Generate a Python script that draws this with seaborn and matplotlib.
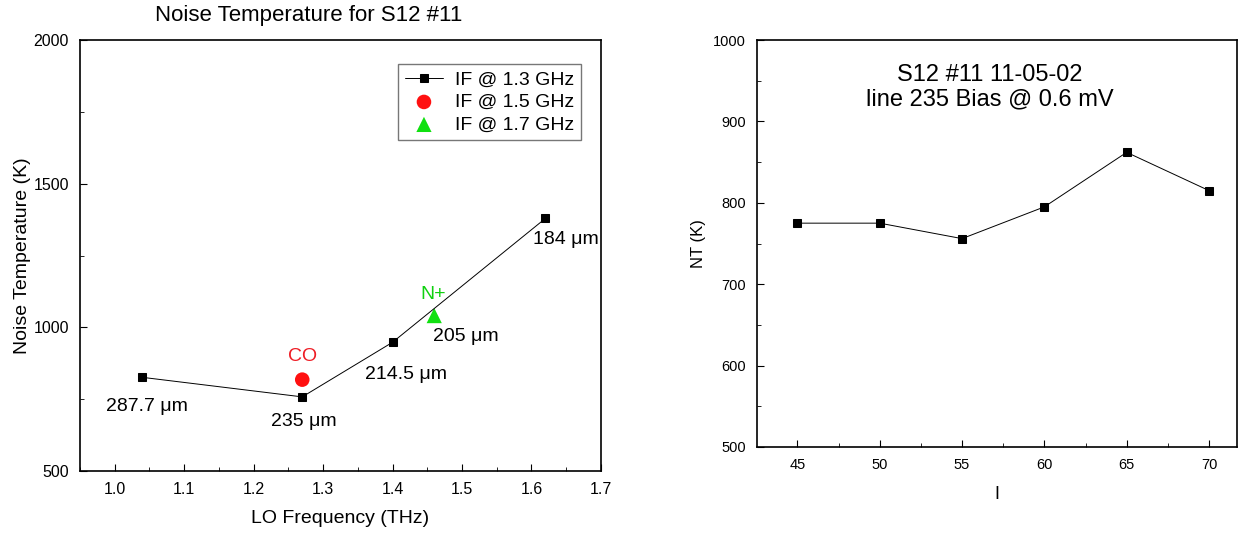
import numpy as np
import pandas as pd
import matplotlib.pyplot as plt
import seaborn as sns
from matplotlib.ticker import MultipleLocator, AutoMinorLocator

# Left panel: noise temperature vs LO frequency
lo_freq = [1.04, 1.27, 1.40, 1.62]
noise_temp = [826, 758, 948, 1379]
wavelength_labels = ["287.7 \u03bcm", "235 \u03bcm", "214.5 \u03bcm", "184 \u03bcm"]
label_pos = [(1.047, 725), (1.272, 674), (1.42, 837), (1.649, 1305)]

co_freq = [1.27]
co_temp = [818]
nplus_freq = [1.46]
nplus_temp = [1041]
nplus_label_pos = (1.505, 968)

# Right panel: NT vs I
current = [45, 50, 55, 60, 65, 70]
nt = [775, 775, 756, 795, 862, 815]

sns.set_style("ticks", {"xtick.direction": "in", "ytick.direction": "in",
                        "text.color": "black", "axes.labelcolor": "black",
                        "xtick.color": "black", "ytick.color": "black"})
plt.rcParams["font.family"] = ["Liberation Sans", "DejaVu Sans"]

fig = plt.figure(figsize=(12.38, 5.35), dpi=100)
ax1 = fig.add_axes([0.0646, 0.1196, 0.4208, 0.8056])
ax2 = fig.add_axes([0.6115, 0.1645, 0.3877, 0.7607])

# ---- left ----
df1 = pd.DataFrame({"f": lo_freq, "T": noise_temp})
sns.lineplot(data=df1, x="f", y="T", ax=ax1, color="black", linewidth=0.7,
             marker="s", markersize=6, markeredgecolor="black",
             label="IF @ 1.3 GHz")
sns.scatterplot(x=co_freq, y=co_temp, ax=ax1, color="#ff1010", marker="o",
                s=110, edgecolor="none", label="IF @ 1.5 GHz")
sns.scatterplot(x=nplus_freq, y=nplus_temp, ax=ax1, color="#10e010", marker="^",
                s=120, edgecolor="none", label="IF @ 1.7 GHz")

for txt, (x, y) in zip(wavelength_labels, label_pos):
    ax1.text(x, y, txt, ha="center", va="center", fontsize=14)
ax1.text(1.271, 899, "CO", color="#ee1c24", ha="center", va="center", fontsize=14)
ax1.text(1.459, 1116, "N+", color="#10d010", ha="center", va="center", fontsize=14)
ax1.text(nplus_label_pos[0], nplus_label_pos[1], "205 \u03bcm", ha="center",
         va="center", fontsize=14)

ax1.set_xlim(0.95, 1.7)
ax1.set_ylim(500, 2000)
ax1.set_xticks([1.0, 1.1, 1.2, 1.3, 1.4, 1.5, 1.6, 1.7])
ax1.set_xticklabels(["1.0", "1.1", "1.2", "1.3", "1.4", "1.5", "1.6", "1.7"])
ax1.xaxis.set_minor_locator(AutoMinorLocator(2))
ax1.yaxis.set_major_locator(MultipleLocator(500))
ax1.yaxis.set_minor_locator(AutoMinorLocator(2))
ax1.set_xlabel("LO Frequency (THz)", fontsize=14, labelpad=9)
ax1.set_ylabel("Noise Temperature (K)", fontsize=14, labelpad=2)
fig.text(309 / 1238, 1 - 16 / 535, "Noise Temperature for S12 #11",
         fontsize=16, ha="center", va="center")
ax1.tick_params(which="major", length=5, labelsize=11.5, pad=8)
ax1.tick_params(which="minor", length=3)
leg = ax1.legend(loc="upper right", bbox_to_anchor=(0.962, 0.944), fontsize=14,
                 frameon=True, fancybox=False, edgecolor="#555555",
                 handlelength=2.0, borderpad=0.35, labelspacing=0.25,
                 handletextpad=0.6, borderaxespad=0)
leg.get_frame().set_linewidth(1.0)

# ---- right ----
df2 = pd.DataFrame({"I": current, "NT": nt})
sns.lineplot(data=df2, x="I", y="NT", ax=ax2, color="black", linewidth=0.7,
             marker="s", markersize=6, markeredgecolor="black")
ax2.set_xlim(42.55, 71.7)
ax2.set_ylim(500, 1000)
ax2.set_xticks(current)
ax2.xaxis.set_minor_locator(AutoMinorLocator(2))
ax2.yaxis.set_major_locator(MultipleLocator(100))
ax2.yaxis.set_minor_locator(AutoMinorLocator(2))
ax2.set_xlabel("I", fontsize=13, labelpad=10)
ax2.set_ylabel("NT (K)", fontsize=12, labelpad=5)
ax2.tick_params(which="major", length=5, labelsize=10.5, pad=8)
ax2.tick_params(which="minor", length=3)
ax2.text(56.7, 942, "S12 #11 11-05-02\nline 235 Bias @ 0.6 mV", ha="center",
         va="center", fontsize=17, linespacing=1.15)

for ax in (ax1, ax2):
    for sp in ax.spines.values():
        sp.set_linewidth(1.2)
        sp.set_color("black")

fig.savefig("out.png", dpi=100)
